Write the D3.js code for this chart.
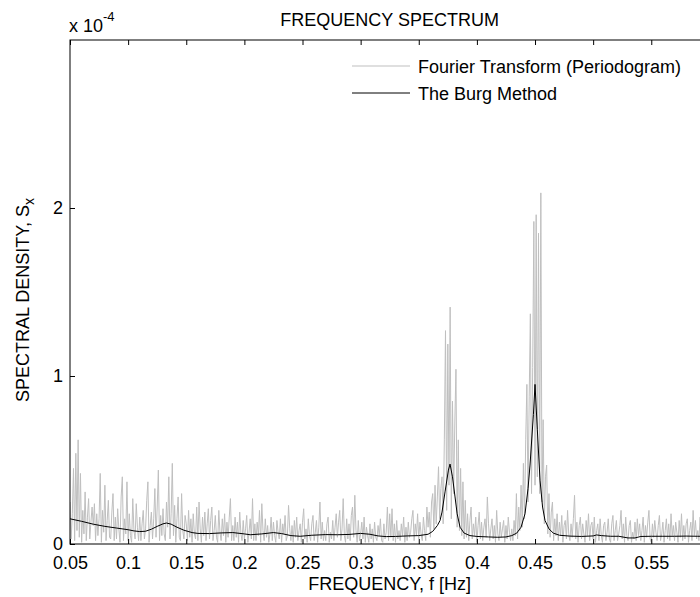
<!DOCTYPE html>
<html>
<head>
<meta charset="utf-8">
<script src="https://cdn.jsdelivr.net/npm/d3@7"></script>
<style>
  body { margin: 0; background: #fff; }
  text { font-family: Arial, "Liberation Sans", sans-serif; fill: #000; }
</style>
</head>
<body>
<div id="chartContainer"></div>
<script>
//periodogram, one value every 0.001 Hz starting at 0.05 Hz (units of 1e-4)
const periodogramStart = 0.05;
const periodogramStep = 0.001;
const periodogramValues = [
  0.25,0.03,0.18,0.45,0.02,0.54,0.08,0.62,0.04,0.42,0.01,0.20,0.06,0.31,0.02,0.16,0.27,0.03,0.13,0.22,
  0.11,0.24,0.02,0.18,0.05,0.15,0.42,0.01,0.20,0.07,0.35,0.02,0.14,0.26,0.04,0.03,0.19,0.30,0.02,0.16,
  0.03,0.21,0.09,0.01,0.28,0.40,0.02,0.15,0.06,0.37,0.02,0.18,0.05,0.01,0.27,0.08,0.03,0.24,0.10,0.02,
  0.16,0.02,0.12,0.20,0.03,0.09,0.26,0.37,0.01,0.11,0.19,0.03,0.15,0.33,0.04,0.22,0.44,0.02,0.17,0.05,
  0.21,0.06,0.02,0.25,0.10,0.40,0.03,0.18,0.48,0.05,0.23,0.01,0.15,0.28,0.04,0.02,0.30,0.08,0.03,0.17,
  0.12,0.02,0.20,0.04,0.15,0.01,0.18,0.06,0.03,0.22,0.02,0.25,0.09,0.01,0.16,0.05,0.19,0.02,0.12,0.21,
  0.03,0.14,0.22,0.02,0.08,0.17,0.04,0.01,0.20,0.07,0.02,0.15,0.05,0.18,0.01,0.13,0.04,0.16,0.27,0.02,
  0.11,0.02,0.16,0.04,0.13,0.01,0.19,0.06,0.02,0.14,0.03,0.09,0.17,0.01,0.07,0.15,0.03,0.27,0.02,0.12,
  0.02,0.13,0.05,0.20,0.01,0.24,0.08,0.02,0.15,0.04,0.11,0.01,0.06,0.16,0.02,0.13,0.05,0.01,0.14,0.07,
  0.03,0.15,0.01,0.12,0.06,0.17,0.02,0.05,0.23,0.09,0.02,0.11,0.01,0.14,0.04,0.16,0.02,0.08,0.12,0.01,
  0.13,0.21,0.03,0.09,0.01,0.15,0.05,0.02,0.12,0.17,0.02,0.07,0.14,0.01,0.10,0.25,0.03,0.13,0.02,0.08,
  0.02,0.12,0.16,0.01,0.07,0.03,0.14,0.02,0.10,0.18,0.04,0.13,0.20,0.02,0.09,0.27,0.05,0.01,0.15,0.03,
  0.12,0.02,0.17,0.22,0.04,0.29,0.08,0.01,0.14,0.02,0.06,0.13,0.03,0.16,0.01,0.10,0.05,0.01,0.12,0.03,
  0.09,0.01,0.13,0.04,0.02,0.11,0.05,0.15,0.02,0.01,0.12,0.03,0.07,0.22,0.02,0.18,0.04,0.21,0.02,0.12,
  0.01,0.14,0.03,0.08,0.02,0.12,0.05,0.16,0.01,0.10,0.02,0.13,0.04,0.07,0.15,0.20,0.02,0.12,0.05,0.18,
  0.03,0.13,0.06,0.02,0.16,0.08,0.02,0.22,0.10,0.19,0.04,0.25,0.30,0.09,0.35,0.12,0.28,0.46,0.15,0.33,
  0.40,0.12,0.62,1.27,0.20,1.19,0.35,1.41,0.15,0.85,0.30,0.72,1.04,0.10,0.62,0.08,0.45,0.05,0.37,0.03,
  0.26,0.04,0.18,0.02,0.14,0.22,0.03,0.12,0.05,0.16,0.01,0.11,0.19,0.03,0.13,0.02,0.10,0.15,0.04,0.28,
  0.12,0.02,0.09,0.15,0.03,0.11,0.01,0.20,0.06,0.02,0.13,0.04,0.09,0.14,0.01,0.11,0.03,0.16,0.07,0.02,
  0.09,0.02,0.14,0.05,0.30,0.03,0.22,0.08,0.35,0.10,0.48,0.15,0.62,0.95,0.25,0.88,1.37,0.30,1.05,1.92,
  0.35,1.96,0.40,1.85,0.30,2.09,0.25,0.74,0.12,0.40,0.47,0.06,0.30,0.04,0.19,0.25,0.02,0.15,0.05,0.18,
  0.02,0.13,0.05,0.17,0.01,0.11,0.14,0.03,0.20,0.06,0.02,0.12,0.04,0.15,0.29,0.03,0.13,0.01,0.11,0.16,
  0.03,0.12,0.06,0.01,0.14,0.05,0.18,0.02,0.11,0.13,0.03,0.16,0.01,0.08,0.12,0.02,0.15,0.05,0.01,0.11,
  0.13,0.02,0.07,0.15,0.03,0.01,0.12,0.17,0.02,0.08,0.14,0.02,0.06,0.11,0.20,0.03,0.12,0.01,0.16,0.05,
  0.02,0.11,0.14,0.01,0.07,0.03,0.13,0.02,0.15,0.05,0.12,0.02,0.08,0.16,0.01,0.11,0.04,0.13,0.20,0.03,
  0.01,0.12,0.04,0.14,0.07,0.02,0.11,0.17,0.02,0.06,0.13,0.01,0.08,0.15,0.03,0.12,0.02,0.18,0.05,0.11,
  0.02,0.13,0.07,0.01,0.14,0.04,0.18,0.02,0.11,0.03,0.12,0.15,0.01,0.08,0.13,0.02,0.20,0.05,0.14,0.03,
  0.08,0.02,0.16,0.03,0.10,0.13,0.01,0.11,0.15,0.04,0.12
];

//burg estimate (units of 1e-4)
const burgFreq = [
  0.050,0.060,0.070,0.080,0.090,0.100,0.105,0.110,0.115,0.120,0.125,0.130,0.133,0.137,0.142,0.148,
  0.155,0.160,0.170,0.180,0.190,0.200,0.205,0.215,0.225,0.232,0.240,0.248,0.258,0.270,0.280,0.290,
  0.300,0.308,0.315,0.322,0.330,0.340,0.350,0.358,0.362,0.366,0.3683,0.370,0.3726,0.3755,0.3769,0.379,
  0.3812,0.383,0.3855,0.389,0.394,0.400,0.410,0.418,0.425,0.430,0.4343,0.438,0.4414,0.444,0.4457,0.4486,
  0.450,0.452,0.4543,0.4565,0.4586,0.462,0.4657,0.471,0.480,0.490,0.500,0.503,0.507,0.515,0.522,0.530,
  0.536,0.541,0.550,0.560,0.570,0.580,0.590,0.600
];
const burgValues = [
  0.150,0.135,0.118,0.105,0.095,0.085,0.078,0.074,0.076,0.088,0.105,0.120,0.125,0.118,0.100,0.082,
  0.068,0.063,0.062,0.066,0.068,0.060,0.055,0.060,0.068,0.062,0.050,0.046,0.052,0.056,0.055,0.057,
  0.063,0.058,0.048,0.044,0.045,0.048,0.050,0.058,0.075,0.110,0.140,0.190,0.310,0.440,0.476,0.400,
  0.280,0.180,0.100,0.065,0.050,0.045,0.042,0.040,0.042,0.050,0.065,0.100,0.180,0.330,0.470,0.770,
  0.950,0.680,0.380,0.220,0.140,0.090,0.065,0.052,0.047,0.045,0.048,0.054,0.050,0.046,0.046,0.036,
  0.036,0.045,0.046,0.046,0.046,0.047,0.046,0.046
];

//the 0.6 label falls outside the picture, so only its tick is drawn
const xTicks = [0.05,0.1,0.15,0.2,0.25,0.3,0.35,0.4,0.45,0.5,0.55,0.6];
const xTickLabels = ["0.05","0.1","0.15","0.2","0.25","0.3","0.35","0.4","0.45","0.5","0.55",""];
const yTicks = [0,1,2];
const yTickLabels = ["0","1","2"];

const width = 700, height = 597;
const plotLeft = 70, plotRight = 709.4, plotTop = 40, plotBottom = 544;
const fontSize = 18;

let svg = d3.select("#chartContainer")
  .append("svg")
  .attr("width", width)
  .attr("height", height);

let x = d3.scaleLinear().domain([0.05, 0.6]).range([plotLeft, plotRight]);
let y = d3.scaleLinear().domain([0, 3]).range([plotBottom, plotTop]);

//clip so the lines stay inside the axes
svg.append("clipPath").attr("id", "plotClip")
  .append("rect")
  .attr("x", plotLeft).attr("y", plotTop)
  .attr("width", plotRight - plotLeft).attr("height", plotBottom - plotTop);

let periodogram = periodogramValues.map((v, i) => [periodogramStart + i * periodogramStep, v]);
let burg = burgFreq.map((f, i) => [f, burgValues[i]]);

let line = d3.line().x(d => x(d[0])).y(d => y(d[1]));

svg.append("path")
  .datum(periodogram)
  .attr("clip-path", "url(#plotClip)")
  .attr("d", line)
  .attr("fill", "none")
  .attr("stroke", "#bfbfbf")
  .attr("stroke-width", 1);

svg.append("path")
  .datum(burg)
  .attr("clip-path", "url(#plotClip)")
  .attr("d", line)
  .attr("fill", "none")
  .attr("stroke", "#000")
  .attr("stroke-width", 1);

//axes, matlab style ticks pointing inward
svg.append("g")
  .attr("transform", "translate(0," + plotBottom + ")")
  .call(d3.axisBottom(x).tickValues(xTicks).tickSizeInner(-5).tickSizeOuter(0).tickPadding(12)
    .tickFormat((d, i) => xTickLabels[i]));
svg.append("g")
  .attr("transform", "translate(0," + plotTop + ")")
  .call(d3.axisTop(x).tickValues(xTicks).tickSizeInner(-5).tickSizeOuter(0).tickFormat(""));
svg.append("g")
  .attr("transform", "translate(" + plotLeft + ",0)")
  .call(d3.axisLeft(y).tickValues(yTicks).tickSizeInner(-5).tickSizeOuter(0).tickPadding(7)
    .tickFormat((d, i) => yTickLabels[i]));
svg.append("g")
  .attr("transform", "translate(" + plotRight + ",0)")
  .call(d3.axisRight(y).tickValues(yTicks).tickSizeInner(-5).tickSizeOuter(0).tickFormat(""));

svg.selectAll(".domain").remove();
svg.selectAll(".tick line").attr("stroke", "#000");
svg.selectAll(".tick text")
  .style("font-family", "Arial, 'Liberation Sans', sans-serif")
  .style("font-size", fontSize + "px")
  .attr("fill", "#000");

//box around the plot
svg.append("rect")
  .attr("x", plotLeft).attr("y", plotTop)
  .attr("width", plotRight - plotLeft).attr("height", plotBottom - plotTop)
  .attr("fill", "none")
  .attr("stroke", "#000")
  .attr("stroke-width", 1);

//title and labels
svg.append("text")
  .attr("x", (plotLeft + plotRight) / 2).attr("y", 26)
  .attr("text-anchor", "middle")
  .style("font-size", fontSize + "px")
  .text("FREQUENCY SPECTRUM");

let expo = svg.append("text")
  .attr("x", 69).attr("y", 32)
  .style("font-size", fontSize + "px");
expo.append("tspan").text("x 10");
expo.append("tspan").attr("dy", -11).style("font-size", "13px").text("-4");

svg.append("text")
  .attr("x", (plotLeft + plotRight) / 2).attr("y", 590)
  .attr("text-anchor", "middle")
  .style("font-size", fontSize + "px")
  .text("FREQUENCY, f [Hz]");

let yLabel = svg.append("text")
  .attr("transform", "translate(29,300) rotate(-90)")
  .attr("text-anchor", "middle")
  .style("font-size", fontSize + "px");
yLabel.append("tspan").text("SPECTRAL DENSITY, S");
yLabel.append("tspan").attr("dy", 5).style("font-size", "14px").text("x");

//legend, no box
const legendItems = [
  { label: "Fourier Transform (Periodogram)", color: "#bfbfbf", y: 66 },
  { label: "The Burg Method", color: "#000", y: 93 }
];
let legend = svg.selectAll(".legendItem")
  .data(legendItems)
  .join("g")
  .attr("class", "legendItem");
legend.append("line")
  .attr("x1", 352).attr("x2", 410)
  .attr("y1", d => d.y).attr("y2", d => d.y)
  .attr("stroke", d => d.color)
  .attr("stroke-width", 1);
legend.append("text")
  .attr("x", 418).attr("y", d => d.y + 7)
  .style("font-size", fontSize + "px")
  .text(d => d.label);
</script>
</body>
</html>
